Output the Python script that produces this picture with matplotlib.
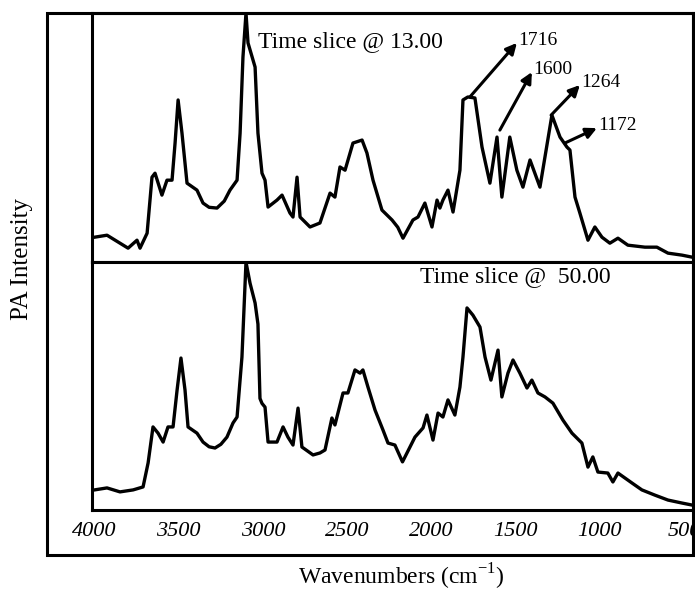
import matplotlib
matplotlib.use("Agg")
import matplotlib.pyplot as plt
from matplotlib.patches import Rectangle

plt.rcParams['font.family'] = ['Liberation Serif', 'DejaVu Serif']
plt.rcParams['mathtext.fontset'] = 'custom'
plt.rcParams['mathtext.rm'] = 'Liberation Serif'

# top spectrum: time slice @ 13.00
wn_13 = [4000, 3926, 3849, 3801, 3748, 3730, 3688, 3659, 3641, 3600, 3570, 3540, 3522, 3504,
         3481, 3451, 3392, 3356, 3320, 3273, 3230, 3196, 3154, 3136, 3119, 3101, 3089, 3047,
         3030, 3006, 2988, 2970, 2917, 2887, 2840, 2822, 2798, 2780, 2721, 2662, 2602, 2573,
         2543, 2513, 2466, 2412, 2383, 2347, 2294, 2234, 2200, 2169, 2110, 2080, 2039, 1997,
         1967, 1950, 1932, 1902, 1872, 1831, 1813, 1784, 1742, 1700, 1653, 1611, 1582, 1535,
         1493, 1457, 1415, 1356, 1285, 1237, 1196, 1178, 1148, 1119, 1071, 1030, 988, 941,
         893, 834, 733, 662, 596, 513, 454]
pa_13 = [10.0, 10.8, 7.6, 5.6, 8.8, 5.6, 11.6, 34.1, 35.7, 26.9, 32.9, 32.9, 47.8, 65.1,
         51.8, 31.7, 28.9, 23.7, 22.0, 21.7, 24.5, 28.9, 32.9, 51.8, 82.3, 100.0, 88.0, 78.3,
         51.8, 35.7, 32.9, 22.1, 24.9, 26.9, 19.7, 18.1, 34.1, 18.1, 14.1, 15.7, 27.7, 26.1,
         38.2, 36.9, 47.8, 49.0, 43.8, 32.9, 20.9, 16.9, 14.0, 9.6, 16.9, 18.1, 23.7, 14.1,
         24.9, 21.7, 24.9, 28.9, 20.1, 36.9, 65.1, 66.3, 65.9, 46.2, 31.7, 50.2, 26.1, 50.2,
         36.9, 30.1, 41.0, 30.1, 59.0, 50.2, 46.2, 45.0, 26.1, 19.7, 8.8, 14.1, 10.0, 7.6,
         9.6, 6.8, 6.0, 6.0, 3.6, 2.8, 2.0]

# bottom spectrum: time slice @ 50.00
wn_50 = [4000, 3926, 3849, 3771, 3712, 3682, 3653, 3623, 3593, 3564, 3534, 3510, 3487, 3463,
         3445, 3392, 3356, 3320, 3285, 3250, 3214, 3178, 3154, 3125, 3101, 3077, 3047, 3030,
         3018, 3006, 2988, 2970, 2917, 2881, 2852, 2822, 2792, 2769, 2703, 2662, 2632, 2591,
         2573, 2525, 2496, 2454, 2424, 2407, 2377, 2335, 2288, 2258, 2217, 2172, 2098, 2050,
         2027, 1991, 1961, 1932, 1902, 1861, 1831, 1813, 1789, 1754, 1712, 1682, 1647, 1605,
         1582, 1546, 1516, 1475, 1433, 1404, 1368, 1326, 1279, 1220, 1166, 1107, 1071, 1042,
         1012, 953, 923, 893, 810, 751, 674, 596, 513, 454]
pa_50 = [8.1, 8.9, 7.3, 8.1, 9.3, 19.0, 33.5, 31.0, 27.4, 33.5, 33.5, 48.4, 61.3, 48.4,
         33.5, 31.0, 27.4, 25.5, 25.0, 26.5, 29.4, 35.1, 37.5, 61.7, 100.0, 91.5, 83.5, 75.0,
         45.0, 43.0, 41.5, 27.4, 27.4, 33.5, 29.4, 26.2, 41.1, 25.4, 22.2, 23.0, 24.2, 37.1,
         34.3, 47.2, 47.2, 56.5, 55.2, 56.5, 49.6, 40.3, 32.3, 27.0, 26.2, 19.4, 29.4, 33.1,
         38.3, 28.2, 39.1, 37.5, 44.4, 38.3, 49.6, 61.7, 81.5, 78.6, 73.8, 61.7, 52.4, 64.5,
         45.6, 55.2, 60.5, 55.2, 49.2, 52.4, 47.2, 45.6, 43.1, 36.3, 31.0, 27.0, 17.3, 21.4,
         15.3, 14.9, 11.3, 14.9, 10.9, 8.1, 6.0, 4.0, 2.8, 2.0]

tick_pos = [4000, 3500, 3000, 2500, 2000, 1500, 1000, 500]

# peak labels: (label, peak xy, arrow head xy)
peak_labels = [("1716", (1772, 66.3), (1493, 88.0)),
               ("1600", (1594, 53.0), (1404, 76.3)),
               ("1264", (1290, 59.0), (1119, 71.1)),
               ("1172", (1208, 47.8), (1018, 53.8))]


fig = plt.figure(figsize=(6.95, 5.93), dpi=100)

ax_top = fig.add_axes([0.1324, 0.558, 0.8646, 0.420])
ax_bot = fig.add_axes([0.1324, 0.140, 0.8646, 0.418])

for ax in (ax_top, ax_bot):
    ax.set_xlim(4015, 448)
    ax.set_ylim(0, 100)
    ax.set_yticks([])
    for sp in ax.spines.values():
        sp.set_linewidth(2.2)

ax_top.plot(wn_13, pa_13, color='black', lw=2.4, solid_joinstyle='round')
ax_bot.plot(wn_50, pa_50, color='black', lw=2.4, solid_joinstyle='round')

ax_top.set_xticks([])
ax_bot.set_xticks(tick_pos)
ax_bot.set_xticklabels([str(t) for t in tick_pos], fontsize=16, style='italic')
ax_bot.tick_params(axis='x', length=0, pad=9)

ax_top.text(0.276, 0.884, "Time slice @ 13.00", transform=ax_top.transAxes,
            fontsize=17, ha='left', va='center')
ax_bot.text(0.546, 0.94, "Time slice @  50.00", transform=ax_bot.transAxes,
            fontsize=17, ha='left', va='center')

for label, tail, head in peak_labels:
    ax_top.annotate('', xy=head, xytext=tail,
                    arrowprops=dict(arrowstyle='-|>', color='black', lw=2.2,
                                    mutation_scale=16, shrinkA=0, shrinkB=0))
    ax_top.text(head[0] - 6, head[1] + 1, label, fontsize=14, ha='left', va='center')

# outer frame
fig.patches.append(Rectangle((0.0676, 0.064), 0.9294, 0.914, transform=fig.transFigure,
                             fill=False, lw=2.2, edgecolor='black'))

fig.text(0.032, 0.563, "PA Intensity", rotation=90, fontsize=18, ha='center', va='center')
fig.text(0.577, 0.027, r"Wavenumbers (cm$^{\mathregular{-1}}$)", fontsize=17,
         ha='center', va='center')

fig.savefig("out.png", dpi=100)
